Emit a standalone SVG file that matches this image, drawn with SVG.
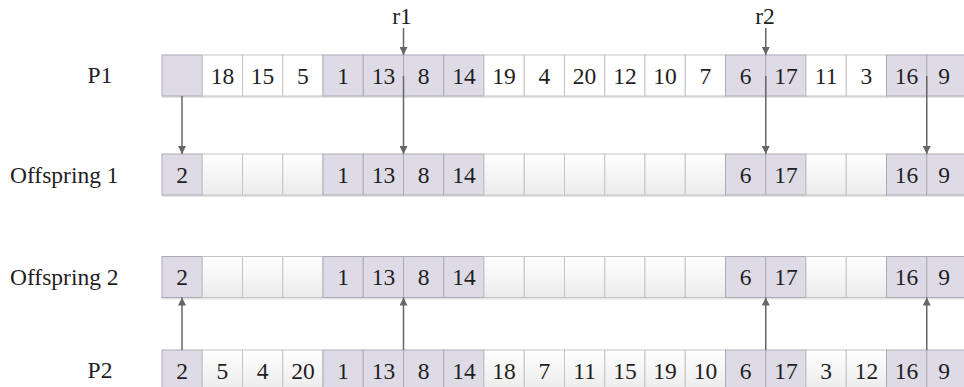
<svg xmlns="http://www.w3.org/2000/svg" xmlns:xlink="http://www.w3.org/1999/xlink" width="964" height="387" viewBox="0 0 964 387">
<defs>
<linearGradient id="gEmpty" x1="0" y1="0" x2="0" y2="1">
<stop offset="0" stop-color="#ffffff"/>
<stop offset="1" stop-color="#ebebeb"/>
</linearGradient>
<marker id="ah" markerWidth="8" markerHeight="8" viewBox="0 0 8 8" refX="8" refY="4" orient="auto" markerUnits="userSpaceOnUse">
<path d="M0,0 L8,4 L0,8 Z" fill="#666666"/>
</marker>
<rect id="hc" width="40.25" height="41" class="hi"/>
<rect id="wc" width="40.25" height="41" class="wh"/>
<rect id="ec" width="40.25" height="41" class="em"/>
</defs>
<style>
.hi{fill:#dedbe7;stroke:#ababb3;stroke-width:1}
.wh{fill:#ffffff;stroke:#c4c4c4;stroke-width:1}
.em{fill:url(#gEmpty);stroke:#c4c4c4;stroke-width:1}
.sh{fill:#e4e4e4}
text{font-family:"Liberation Serif","Times New Roman",serif;font-size:23.5px;fill:#1e1e1e}
.n{text-anchor:middle}
.conn line{stroke:#666666;stroke-width:1.5;marker-end:url(#ah)}
</style>
<rect width="964" height="387" fill="#ffffff"/>

<g id="labels">
<text x="100" y="83" class="n">P1</text>
<text x="10" y="183">Offspring 1</text>
<text x="10" y="284.5">Offspring 2</text>
<text x="100" y="378" class="n">P2</text>
<text x="402" y="24" class="n">r1</text>
<text x="765" y="24" class="n">r2</text>
</g>

<g id="P1">
<rect class="sh" x="162" y="96" width="805" height="2"/>
<g id="p1-0"><use href="#hc" x="162" y="55"/></g>
<g id="p1-1"><use href="#wc" x="202.25" y="55"/><text class="n" x="222.4" y="83.5">18</text></g>
<g id="p1-2"><use href="#wc" x="242.5" y="55"/><text class="n" x="262.6" y="83.5">15</text></g>
<g id="p1-3"><use href="#wc" x="282.75" y="55"/><text class="n" x="302.9" y="83.5">5</text></g>
<g id="p1-4"><use href="#hc" x="323" y="55"/><text class="n" x="343.1" y="83.5">1</text></g>
<g id="p1-5"><use href="#hc" x="363.25" y="55"/><text class="n" x="383.4" y="83.5">13</text></g>
<g id="p1-6"><use href="#hc" x="403.5" y="55"/><text class="n" x="423.6" y="83.5">8</text></g>
<g id="p1-7"><use href="#hc" x="443.75" y="55"/><text class="n" x="463.9" y="83.5">14</text></g>
<g id="p1-8"><use href="#wc" x="484" y="55"/><text class="n" x="504.1" y="83.5">19</text></g>
<g id="p1-9"><use href="#wc" x="524.25" y="55"/><text class="n" x="544.4" y="83.5">4</text></g>
<g id="p1-10"><use href="#wc" x="564.5" y="55"/><text class="n" x="584.6" y="83.5">20</text></g>
<g id="p1-11"><use href="#wc" x="604.75" y="55"/><text class="n" x="624.9" y="83.5">12</text></g>
<g id="p1-12"><use href="#wc" x="645" y="55"/><text class="n" x="665.1" y="83.5">10</text></g>
<g id="p1-13"><use href="#wc" x="685.25" y="55"/><text class="n" x="705.4" y="83.5">7</text></g>
<g id="p1-14"><use href="#hc" x="725.5" y="55"/><text class="n" x="745.6" y="83.5">6</text></g>
<g id="p1-15"><use href="#hc" x="765.75" y="55"/><text class="n" x="785.9" y="83.5">17</text></g>
<g id="p1-16"><use href="#wc" x="806" y="55"/><text class="n" x="826.1" y="83.5">11</text></g>
<g id="p1-17"><use href="#wc" x="846.25" y="55"/><text class="n" x="866.4" y="83.5">3</text></g>
<g id="p1-18"><use href="#hc" x="886.5" y="55"/><text class="n" x="906.6" y="83.5">16</text></g>
<g id="p1-19"><use href="#hc" x="926.75" y="55"/><text class="n" x="944" y="83.5">9</text></g>
</g>

<g id="Offspring1">
<rect class="sh" x="162" y="195" width="805" height="2"/>
<g id="o1-0"><use href="#hc" x="162" y="154"/><text class="n" x="182.1" y="183">2</text></g>
<g id="o1-1"><use href="#ec" x="202.25" y="154"/></g>
<g id="o1-2"><use href="#ec" x="242.5" y="154"/></g>
<g id="o1-3"><use href="#ec" x="282.75" y="154"/></g>
<g id="o1-4"><use href="#hc" x="323" y="154"/><text class="n" x="343.1" y="183">1</text></g>
<g id="o1-5"><use href="#hc" x="363.25" y="154"/><text class="n" x="383.4" y="183">13</text></g>
<g id="o1-6"><use href="#hc" x="403.5" y="154"/><text class="n" x="423.6" y="183">8</text></g>
<g id="o1-7"><use href="#hc" x="443.75" y="154"/><text class="n" x="463.9" y="183">14</text></g>
<g id="o1-8"><use href="#ec" x="484" y="154"/></g>
<g id="o1-9"><use href="#ec" x="524.25" y="154"/></g>
<g id="o1-10"><use href="#ec" x="564.5" y="154"/></g>
<g id="o1-11"><use href="#ec" x="604.75" y="154"/></g>
<g id="o1-12"><use href="#ec" x="645" y="154"/></g>
<g id="o1-13"><use href="#ec" x="685.25" y="154"/></g>
<g id="o1-14"><use href="#hc" x="725.5" y="154"/><text class="n" x="745.6" y="183">6</text></g>
<g id="o1-15"><use href="#hc" x="765.75" y="154"/><text class="n" x="785.9" y="183">17</text></g>
<g id="o1-16"><use href="#ec" x="806" y="154"/></g>
<g id="o1-17"><use href="#ec" x="846.25" y="154"/></g>
<g id="o1-18"><use href="#hc" x="886.5" y="154"/><text class="n" x="906.6" y="183">16</text></g>
<g id="o1-19"><use href="#hc" x="926.75" y="154"/><text class="n" x="944" y="183">9</text></g>
</g>

<g id="Offspring2">
<rect class="sh" x="162" y="297.5" width="805" height="2"/>
<g id="o2-0"><use href="#hc" x="162" y="256.5"/><text class="n" x="182.1" y="284.5">2</text></g>
<g id="o2-1"><use href="#ec" x="202.25" y="256.5"/></g>
<g id="o2-2"><use href="#ec" x="242.5" y="256.5"/></g>
<g id="o2-3"><use href="#ec" x="282.75" y="256.5"/></g>
<g id="o2-4"><use href="#hc" x="323" y="256.5"/><text class="n" x="343.1" y="284.5">1</text></g>
<g id="o2-5"><use href="#hc" x="363.25" y="256.5"/><text class="n" x="383.4" y="284.5">13</text></g>
<g id="o2-6"><use href="#hc" x="403.5" y="256.5"/><text class="n" x="423.6" y="284.5">8</text></g>
<g id="o2-7"><use href="#hc" x="443.75" y="256.5"/><text class="n" x="463.9" y="284.5">14</text></g>
<g id="o2-8"><use href="#ec" x="484" y="256.5"/></g>
<g id="o2-9"><use href="#ec" x="524.25" y="256.5"/></g>
<g id="o2-10"><use href="#ec" x="564.5" y="256.5"/></g>
<g id="o2-11"><use href="#ec" x="604.75" y="256.5"/></g>
<g id="o2-12"><use href="#ec" x="645" y="256.5"/></g>
<g id="o2-13"><use href="#ec" x="685.25" y="256.5"/></g>
<g id="o2-14"><use href="#hc" x="725.5" y="256.5"/><text class="n" x="745.6" y="284.5">6</text></g>
<g id="o2-15"><use href="#hc" x="765.75" y="256.5"/><text class="n" x="785.9" y="284.5">17</text></g>
<g id="o2-16"><use href="#ec" x="806" y="256.5"/></g>
<g id="o2-17"><use href="#ec" x="846.25" y="256.5"/></g>
<g id="o2-18"><use href="#hc" x="886.5" y="256.5"/><text class="n" x="906.6" y="284.5">16</text></g>
<g id="o2-19"><use href="#hc" x="926.75" y="256.5"/><text class="n" x="944" y="284.5">9</text></g>
</g>

<g id="P2">
<g id="p2-0"><use href="#hc" x="162" y="350"/><text class="n" x="182.1" y="378.5">2</text></g>
<g id="p2-1"><use href="#ec" x="202.25" y="350"/><text class="n" x="222.4" y="378.5">5</text></g>
<g id="p2-2"><use href="#ec" x="242.5" y="350"/><text class="n" x="262.6" y="378.5">4</text></g>
<g id="p2-3"><use href="#ec" x="282.75" y="350"/><text class="n" x="302.9" y="378.5">20</text></g>
<g id="p2-4"><use href="#hc" x="323" y="350"/><text class="n" x="343.1" y="378.5">1</text></g>
<g id="p2-5"><use href="#hc" x="363.25" y="350"/><text class="n" x="383.4" y="378.5">13</text></g>
<g id="p2-6"><use href="#hc" x="403.5" y="350"/><text class="n" x="423.6" y="378.5">8</text></g>
<g id="p2-7"><use href="#hc" x="443.75" y="350"/><text class="n" x="463.9" y="378.5">14</text></g>
<g id="p2-8"><use href="#ec" x="484" y="350"/><text class="n" x="504.1" y="378.5">18</text></g>
<g id="p2-9"><use href="#ec" x="524.25" y="350"/><text class="n" x="544.4" y="378.5">7</text></g>
<g id="p2-10"><use href="#ec" x="564.5" y="350"/><text class="n" x="584.6" y="378.5">11</text></g>
<g id="p2-11"><use href="#ec" x="604.75" y="350"/><text class="n" x="624.9" y="378.5">15</text></g>
<g id="p2-12"><use href="#ec" x="645" y="350"/><text class="n" x="665.1" y="378.5">19</text></g>
<g id="p2-13"><use href="#ec" x="685.25" y="350"/><text class="n" x="705.4" y="378.5">10</text></g>
<g id="p2-14"><use href="#hc" x="725.5" y="350"/><text class="n" x="745.6" y="378.5">6</text></g>
<g id="p2-15"><use href="#hc" x="765.75" y="350"/><text class="n" x="785.9" y="378.5">17</text></g>
<g id="p2-16"><use href="#ec" x="806" y="350"/><text class="n" x="826.1" y="378.5">3</text></g>
<g id="p2-17"><use href="#ec" x="846.25" y="350"/><text class="n" x="866.4" y="378.5">12</text></g>
<g id="p2-18"><use href="#hc" x="886.5" y="350"/><text class="n" x="906.6" y="378.5">16</text></g>
<g id="p2-19"><use href="#hc" x="926.75" y="350"/><text class="n" x="944" y="378.5">9</text></g>
</g>

<g id="connectors" class="conn">
<line x1="403.5" y1="28" x2="403.5" y2="55"/>
<line x1="765.75" y1="28" x2="765.75" y2="55"/>
<line x1="182" y1="96" x2="182" y2="154"/>
<line x1="403.5" y1="76" x2="403.5" y2="154"/>
<line x1="765.75" y1="76" x2="765.75" y2="154"/>
<line x1="926.75" y1="76" x2="926.75" y2="154"/>
<line x1="182" y1="350" x2="182" y2="297.5"/>
<line x1="403.5" y1="350" x2="403.5" y2="297.5"/>
<line x1="765.75" y1="350" x2="765.75" y2="297.5"/>
<line x1="926.75" y1="350" x2="926.75" y2="297.5"/>
</g>
</svg>
